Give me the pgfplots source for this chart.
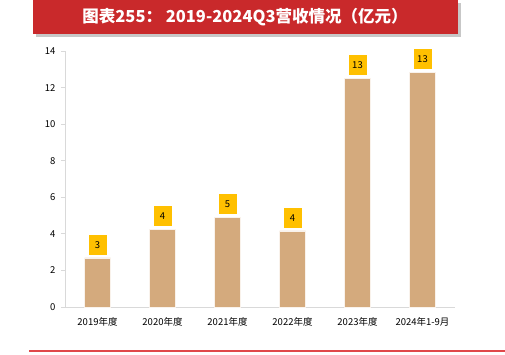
\documentclass[border=0pt]{standalone}
\usepackage{pgfplots}
\pgfplotsset{compat=1.18}
\usepackage{fontspec}
\setmainfont{Noto Sans CJK SC}
\definecolor{barc}{HTML}{D4AA7D}
\definecolor{titred}{HTML}{C9292B}
\definecolor{lab}{HTML}{FFC000}
\definecolor{axc}{HTML}{D9D9D9}
\definecolor{botred}{HTML}{E0484A}
\begin{document}
\begin{tikzpicture}[x=1pt,y=1pt]
\useasboundingbox (0,0) rectangle (505,354);
% banner shadow
\fill[black!22] (36,317) rectangle (461,351);
\fill[titred] (33,320) rectangle (458,354);
\node[text=white,font=\bfseries\fontsize{16.5}{18}\selectfont] at (245,337) {图表255：\ 2019-2024Q3营收情况（亿元）};
% bottom line
\draw[botred,line width=1.2pt] (29,3) -- (505,3);
\begin{axis}[
  at={(65pt,47pt)}, anchor=south west,
  scale only axis, width=390pt, height=256pt,
  xmin=-0.5, xmax=5.5, ymin=0, ymax=14,
  ytick={0,2,...,14},
  xtick={0,...,5},
  xticklabels={2019年度,2020年度,2021年度,2022年度,2023年度,2024年1-9月},
  axis x line*=bottom, axis y line*=left,
  axis line style={axc, line width=0.8pt},
  x axis line style={-}, y axis line style={-},
  major tick length=4pt,
  ytick style={axc, line width=0.8pt},
  xtick style={draw=none},
  tick align=outside,
  yticklabel style={font=\fontsize{9.5}{11}\selectfont, xshift=-2pt},
  xticklabel style={font=\fontsize{9.5}{11}\selectfont, yshift=-3pt},
  /pgf/number format/assume math mode=true,
  ybar, bar width=0.4,
  nodes near coords,
  nodes near coords style={/pgf/number format/fixed,/pgf/number format/precision=0,
    fill=lab, font=\fontsize{9.5}{11}\selectfont, minimum width=18pt, minimum height=20pt, inner sep=1pt, anchor=south, yshift=3pt},
]
\addplot[fill=barc, draw=white!85!barc, line width=0.6pt] coordinates {(0,2.68) (1,4.26) (2,4.92) (3,4.16) (4,12.52) (5,12.85)};
\end{axis}
\end{tikzpicture}
\end{document}
